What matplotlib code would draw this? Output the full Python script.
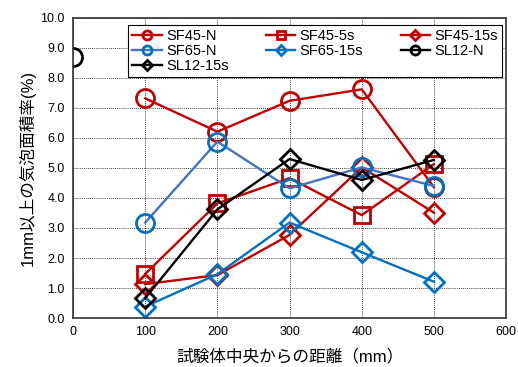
import matplotlib
matplotlib.use("Agg")
import matplotlib.pyplot as plt
from matplotlib.ticker import FormatStrFormatter

plt.rcParams['font.family'] = ['Liberation Sans', 'Noto Sans CJK JP', 'DejaVu Sans']

# =========================
# DATA
# =========================
jarak = [100, 200, 300, 400, 500]
sf45_n = [7.32, 6.21, 7.24, 7.62, 4.36]
sf45_5s = [1.47, 3.82, 4.66, 3.43, 5.13]
sf45_15s = [1.13, 1.43, 2.77, 5.02, 3.51]
sf65_n = [3.18, 5.88, 4.32, 5.02, 4.40]
sf65_15s = [0.38, 1.46, 3.18, 2.19, 1.21]
sl12_n_x = [0]
sl12_n = [8.70]
sl12_15s = [0.66, 3.62, 5.30, 4.60, 5.27]

MERAH = "#C00000"
BIRU = "#0070C0"
BIRU_MUDA = "#4472C4"

# =========================
# PLOT
# =========================
fig = plt.figure(figsize=(5.18, 3.67), dpi=100)
ax = fig.add_axes([0.141, 0.1335, 0.836, 0.8175])

gaya = dict(lw=1.7, mfc="none", mew=2.0)
h1, = ax.plot(jarak, sf45_n, color=MERAH, marker="o", ms=13, label="SF45-N", **gaya)
h2, = ax.plot(jarak, sf45_5s, color=MERAH, marker="s", ms=12, label="SF45-5s", **gaya)
h3, = ax.plot(jarak, sf45_15s, color=MERAH, marker="D", ms=10, label="SF45-15s", **gaya)
h4, = ax.plot(jarak, sf65_n, color=BIRU_MUDA, marker="o", ms=13, mec=BIRU, label="SF65-N", **gaya)
h5, = ax.plot(jarak, sf65_15s, color=BIRU, marker="D", ms=10, label="SF65-15s", **gaya)
h6, = ax.plot(sl12_n_x, sl12_n, color="black", marker="o", ms=13, label="SL12-N", **gaya)
h7, = ax.plot(jarak, sl12_15s, color="black", marker="D", ms=10, label="SL12-15s", **gaya)

ax.set_xlim(0, 600)
ax.set_ylim(0, 10)
ax.set_xticks(range(0, 601, 100))
ax.set_yticks([i for i in range(0, 11)])
ax.yaxis.set_major_formatter(FormatStrFormatter("%.1f"))
ax.tick_params(length=0, labelsize=9, pad=6)
ax.grid(True, color="black", ls=(0, (1, 1.5)), lw=0.6)
for s in ax.spines.values():
    s.set_linewidth(1.2)
    s.set_color("#333333")

ax.set_xlabel("試験体中央からの距離（mm）", fontsize=12, labelpad=7)
ax.set_ylabel("1mm以上の気泡面積率(%)", fontsize=12, labelpad=3)

# urutan supaya legend terisi per baris
urutan = [h1, h4, h7, h2, h5, h3, h6]
leg = ax.legend(handles=urutan, ncol=3, loc="lower left", mode="expand",
                bbox_to_anchor=(0.127, 0.803, 0.864, 0.19),
                fontsize=10.5, markerscale=0.5, handlelength=2.0,
                columnspacing=0.8, handletextpad=0.3, labelspacing=0.05,
                borderpad=0.3, borderaxespad=0, fancybox=False,
                edgecolor="black", framealpha=1)
leg.get_frame().set_linewidth(0.8)

plt.savefig("out.png", dpi=100)
